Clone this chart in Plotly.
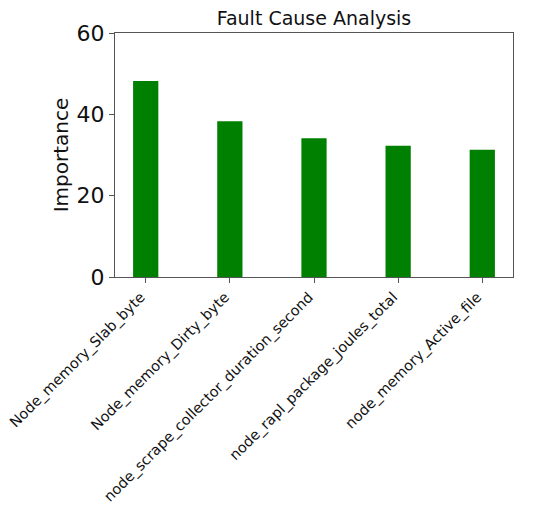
import plotly.graph_objects as go

categories = ["Node_memory_Slab_byte", "Node_memory_Dirty_byte",
              "node_scrape_collector_duration_second",
              "node_rapl_package_joules_total", "node_memory_Active_file"]
importance = [48.2, 38.3, 34.1, 32.3, 31.3]
y_ticks = [0, 20, 40, 60]

fig = go.Figure(go.Bar(
    x=list(range(len(categories))), y=importance, width=0.3,
    marker=dict(color="#008000", line=dict(width=0)),
))

W, H = 550, 512
font_family = "DejaVu Sans"
fig.update_layout(
    width=W, height=H,
    margin=dict(l=115, r=37, t=33, b=235),
    paper_bgcolor="white", plot_bgcolor="white",
    font=dict(family=font_family, color="#111"),
    showlegend=False,
    title=dict(text="Fault Cause Analysis", x=(115 + 513) / 2 / W, xanchor="center",
               y=1 - 18 / H, yanchor="middle", yref="container",
               font=dict(size=19, family=font_family, color="#111")),
    xaxis=dict(
        range=[-0.365, 4.365], tickmode="array",
        tickvals=list(range(len(categories))), ticktext=categories,
        tickangle=-45, tickfont=dict(size=14.5, color="#111"),
        ticklabelshift=-5, ticklabeloverflow="allow",
        showline=True, linecolor="#555", linewidth=1, mirror=True,
        ticks="outside", ticklen=5, tickcolor="#555",
        showgrid=False, zeroline=False, automargin=False,
    ),
    yaxis=dict(
        range=[0, 60], tickmode="array", tickvals=y_ticks,
        tickfont=dict(size=22, color="#111"),
        title=dict(text="Importance", font=dict(size=20, color="#111"), standoff=2),
        showline=True, linecolor="#555", linewidth=1, mirror=True,
        ticks="outside", ticklen=5, tickcolor="#555",
        showgrid=False, zeroline=False, automargin=False,
    ),
)

# remove the browser's default 8px body margin so the figure fills the window exactly
fig.write_html("out.html", config={"displayModeBar": False},
               post_script="document.body.style.margin='0';document.body.style.overflow='hidden';")
